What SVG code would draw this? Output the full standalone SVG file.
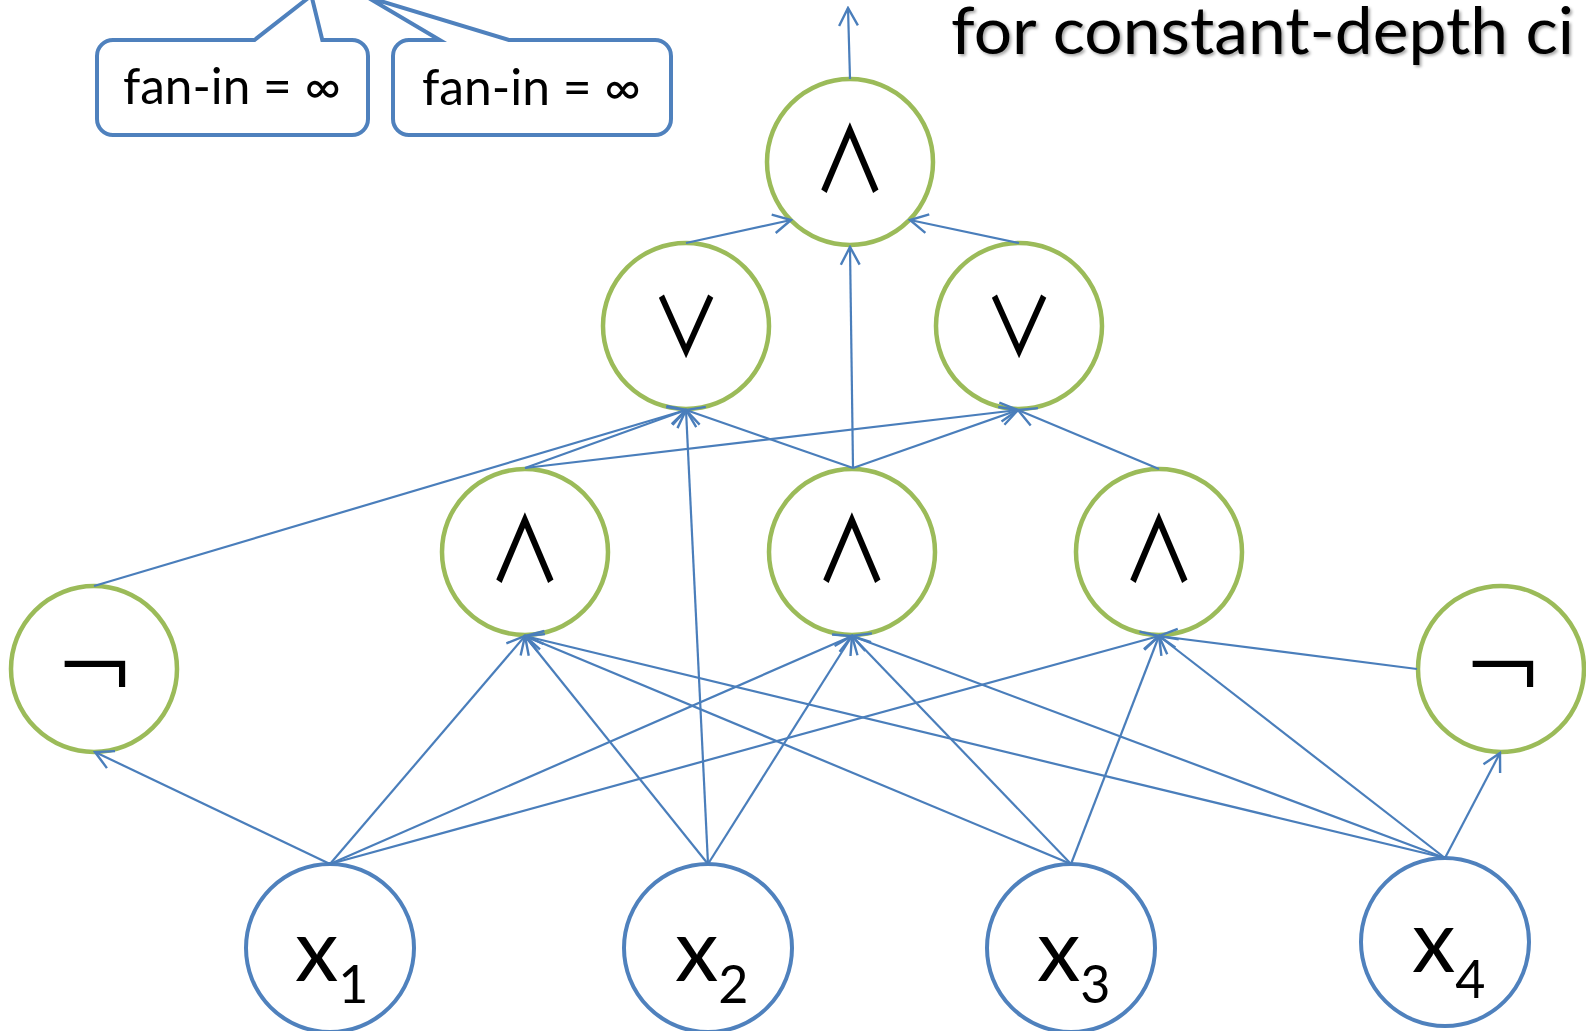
<svg xmlns="http://www.w3.org/2000/svg" width="1586" height="1031" viewBox="0 0 1586 1031">
<style>
.gate{fill:#fff;stroke:#9BBB59;stroke-width:4.5}
.var{fill:#fff;stroke:#4F81BD;stroke-width:4}
.op{font-family:"Noto Sans CJK JP",sans-serif;font-size:90px;font-weight:500;fill:#000;text-anchor:middle}
.neg{font-family:"DejaVu Sans",sans-serif;font-size:100px;fill:#000;stroke:#fff;stroke-width:2;text-anchor:middle}
.xv{font-family:Lato,"Liberation Sans",sans-serif;font-size:87px;fill:#000}
.sub{font-size:52px}
.callout{fill:#fff;stroke:#4F81BD;stroke-width:4;stroke-linejoin:miter}
.ctext{font-family:Lato,"DejaVu Sans",sans-serif;font-size:50px;fill:#000}
.edges line{stroke:#4A7EBB;stroke-width:2.2;marker-end:url(#arr)}
</style>
<defs>
<marker id="arr" markerUnits="userSpaceOnUse" viewBox="-20 -11 22 22" refX="0" refY="0" markerWidth="22" markerHeight="22" orient="auto">
<path d="M-17.7,-9.4 L0,0 L-17.7,9.4" fill="none" stroke="#4A7EBB" stroke-width="2.4"/>
</marker>
<filter id="shadow" x="-5%" y="-20%" width="110%" height="150%">
<feDropShadow dx="2" dy="2" stdDeviation="1.5" flood-color="#000" flood-opacity="0.35"/>
</filter>
</defs>
<rect width="1586" height="1031" fill="#fff"/>

<g id="title">
<text x="951" y="54" font-family="Lato,'Liberation Sans',sans-serif" font-size="66" textLength="623" lengthAdjust="spacingAndGlyphs" filter="url(#shadow)">for constant-depth ci</text>
</g>

<g id="callout1">
<path class="callout" d="M113,40 H254.5 L311.4,-4.5 L322.3,40 H352 A16,16 0 0 1 368,56 V119 A16,16 0 0 1 352,135 H113 A16,16 0 0 1 97,119 V56 A16,16 0 0 1 113,40 Z"/>
<text class="ctext" x="123" y="104" textLength="218" lengthAdjust="spacingAndGlyphs">fan-in = ∞</text>
</g>
<g id="callout2">
<path class="callout" d="M409,40 H439.7 L366.6,-3.2 L508.9,40 H655 A16,16 0 0 1 671,56 V119 A16,16 0 0 1 655,135 H409 A16,16 0 0 1 393,119 V56 A16,16 0 0 1 409,40 Z"/>
<text class="ctext" x="422" y="105" textLength="219" lengthAdjust="spacingAndGlyphs">fan-in = ∞</text>
</g>

<g id="and_top"><circle class="gate" cx="850" cy="162" r="83"/><text class="op" transform="translate(850,192) scale(0.82,1)">∧</text></g>
<g id="or_left"><circle class="gate" cx="686" cy="326" r="83"/><text class="op" transform="translate(686,356) scale(0.78,0.9)">∨</text></g>
<g id="or_right"><circle class="gate" cx="1019" cy="326" r="83"/><text class="op" transform="translate(1019,356) scale(0.78,0.9)">∨</text></g>
<g id="and1"><circle class="gate" cx="525" cy="552" r="83"/><text class="op" transform="translate(525,582) scale(0.82,1)">∧</text></g>
<g id="and2"><circle class="gate" cx="852" cy="552" r="83"/><text class="op" transform="translate(852,582) scale(0.82,1)">∧</text></g>
<g id="and3"><circle class="gate" cx="1159" cy="552" r="83"/><text class="op" transform="translate(1159,582) scale(0.82,1)">∧</text></g>
<g id="not_left"><circle class="gate" cx="94" cy="669" r="83"/><text class="neg" x="95" y="702">¬</text></g>
<g id="not_right"><circle class="gate" cx="1501" cy="669" r="83"/><text class="neg" x="1503" y="702">¬</text></g>
<g id="x1"><circle class="var" cx="330" cy="948" r="84"/><text class="xv" x="295" y="981">x<tspan class="sub" dy="22">1</tspan></text></g>
<g id="x2"><circle class="var" cx="708" cy="948" r="84"/><text class="xv" x="675" y="981">x<tspan class="sub" dy="22">2</tspan></text></g>
<g id="x3"><circle class="var" cx="1071" cy="948" r="84"/><text class="xv" x="1037" y="981">x<tspan class="sub" dy="22">3</tspan></text></g>
<g id="x4"><circle class="var" cx="1445" cy="942" r="84"/><text class="xv" x="1412" y="972">x<tspan class="sub" dy="26">4</tspan></text></g>

<g id="connectors" class="edges">
<line x1="850" y1="79" x2="848" y2="8"/>
<line x1="686" y1="243" x2="791" y2="220"/>
<line x1="1019" y1="243" x2="910" y2="220"/>
<line x1="853" y1="468" x2="850" y2="247"/>
<line x1="94" y1="586" x2="686" y2="410"/>
<line x1="525" y1="468" x2="686" y2="410"/>
<line x1="853" y1="468" x2="686" y2="410"/>
<line x1="708" y1="864" x2="686" y2="410"/>
<line x1="525" y1="468" x2="1018" y2="410"/>
<line x1="853" y1="468" x2="1018" y2="410"/>
<line x1="1159" y1="469" x2="1018" y2="410"/>
<line x1="330" y1="864" x2="95" y2="752"/>
<line x1="330" y1="864" x2="525" y2="636"/>
<line x1="330" y1="864" x2="852" y2="636"/>
<line x1="330" y1="864" x2="1159" y2="636"/>
<line x1="708" y1="864" x2="525" y2="636"/>
<line x1="708" y1="864" x2="852" y2="636"/>
<line x1="1071" y1="864" x2="525" y2="636"/>
<line x1="1071" y1="864" x2="852" y2="636"/>
<line x1="1071" y1="864" x2="1159" y2="636"/>
<line x1="1445" y1="858" x2="525" y2="636"/>
<line x1="1445" y1="858" x2="852" y2="636"/>
<line x1="1445" y1="858" x2="1159" y2="636"/>
<line x1="1445" y1="858" x2="1500" y2="753"/>
<line x1="1417" y1="669" x2="1159" y2="636"/>
</g>
</svg>
